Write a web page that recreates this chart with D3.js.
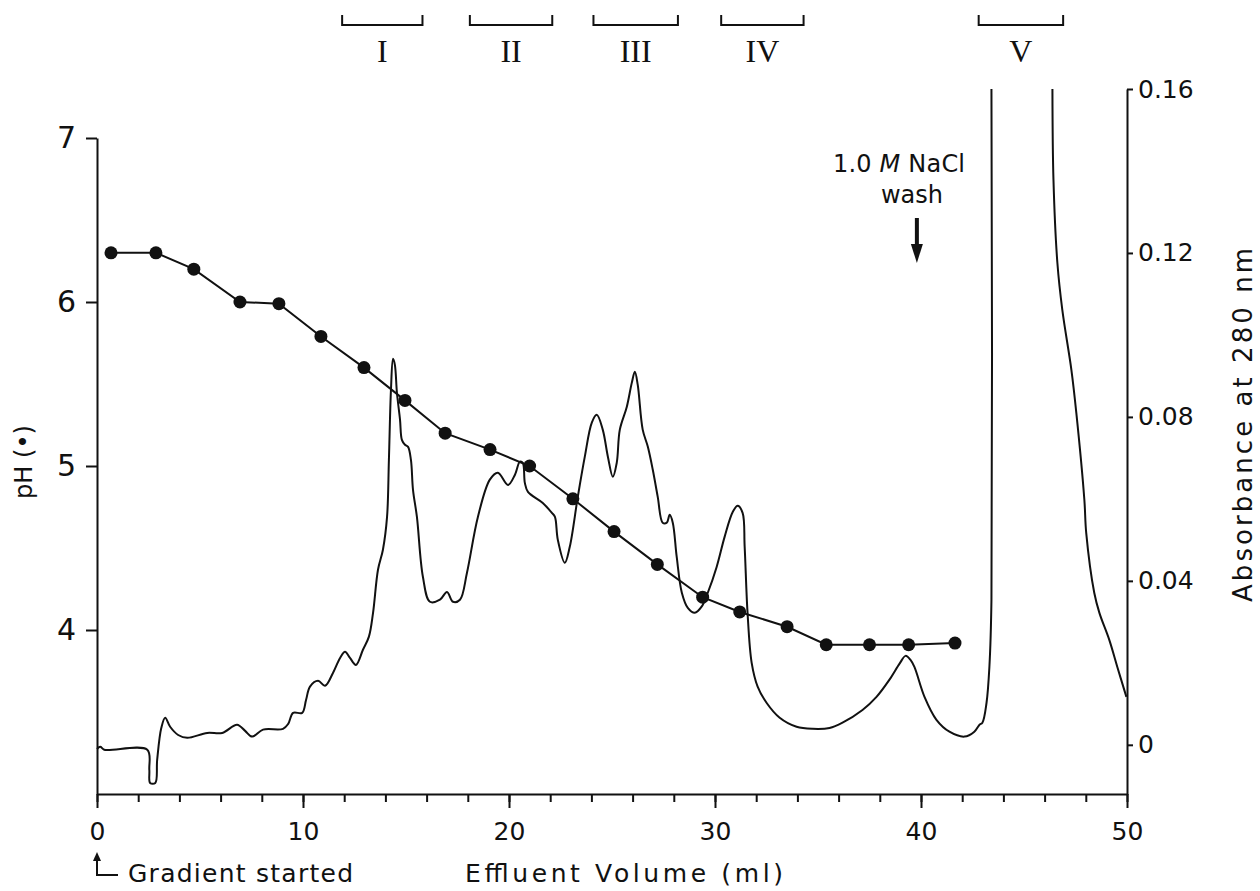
<!DOCTYPE html>
<html>
<head>
<meta charset="utf-8">
<script src="https://cdn.jsdelivr.net/npm/d3@7"></script>
<style>
  body { margin: 0; background: #fff; }
  svg text { font-family: "DejaVu Sans", sans-serif; fill: #111; }
</style>
</head>
<body>
<div id="chart"></div>
<script>
// pH of the collected fractions (ml, pH)
const phVol = [0.68, 2.86, 4.7, 6.94, 8.83, 10.87, 12.96, 14.95, 16.9, 19.08, 21.0,
  23.1, 25.1, 27.2, 29.4, 31.2, 33.5, 35.4, 37.5, 39.4, 41.65];
const phVal = [6.30, 6.30, 6.20, 6.00, 5.99, 5.79, 5.60, 5.40, 5.20, 5.10, 5.00,
  4.80, 4.60, 4.40, 4.20, 4.11, 4.02, 3.91, 3.91, 3.91, 3.92];

// Absorbance trace at 280 nm (ml, A); null = pen off scale
const absVol = [0, 0.16, 0.35, 2.44, 2.54, 2.58, 2.83, 2.92, 3.12, 3.31, 3.55, 3.94, 4.38,
  5.35, 6.08, 6.8, 7.19, 7.53, 8.06, 9.03, 9.28, 9.52, 9.96, 10.15, 10.34, 10.73, 11.07,
  11.46, 11.8, 12.04, 12.28, 12.57, 12.91, 13.2, 13.4, 13.64, 13.88, 14.08, 14.17, 14.27,
  14.37, 14.46, 14.56, 14.71, 14.8, 14.95, 15.1, 15.24, 15.34, 15.53, 15.82, 16.16, 16.65,
  16.99, 17.28, 17.62, 17.96, 18.49, 19.07, 19.46, 19.95, 20.29, 20.53, 20.67, 20.77, 20.92,
  21.64, 22.08, 22.23, 22.37, 22.71, 22.95, 23.34, 23.68, 24.02, 24.26, 24.55, 24.8, 25.04,
  25.23, 25.38, 25.72, 25.96, 26.11, 26.25, 26.49, 26.74, 26.98, 27.22, 27.46, 27.66, 27.8,
  27.95, 28.14, 28.39, 28.68, 29.02, 29.35, 29.65, 30.08, 30.47, 30.86, 31.1, 31.34, 31.44,
  31.58, 31.78, 32.07, 32.51, 33.14, 33.96, 34.74, 35.56, 36.19, 37.16, 37.84, 38.47, 38.96,
  39.25, 39.49, 39.68, 40.17, 40.75, 41.38, 42.11, 42.59, 42.84, 42.98, 43.18, 43.32, 43.42,
  43.42, 44.9, 46.38, 46.43, 46.62, 46.86, 47.3, 47.54, 47.93, 48.02, 48.41, 48.66, 49.14,
  49.53, 49.97];
const absVal = [-0.001, -0.0005, -0.0012, -0.0012, -0.0061, -0.0093, -0.0093, -0.0037, 0.0041,
  0.0066, 0.0044, 0.0024, 0.0017, 0.0029, 0.0029, 0.0049, 0.0034, 0.002, 0.0037, 0.0039,
  0.0051, 0.0078, 0.0078, 0.011, 0.0142, 0.0156, 0.0144, 0.0176, 0.0212, 0.0227, 0.0212,
  0.0195, 0.0232, 0.0264, 0.0322, 0.0427, 0.0476, 0.0556, 0.0695, 0.0866, 0.0942, 0.0927,
  0.0859, 0.0793, 0.0744, 0.0732, 0.0727, 0.0695, 0.0622, 0.0556, 0.041, 0.0349, 0.0354,
  0.0373, 0.0349, 0.0354, 0.042, 0.0556, 0.0647, 0.0664, 0.0634, 0.0659, 0.0691, 0.0688,
  0.0639, 0.0617, 0.059, 0.0566, 0.0556, 0.05, 0.0444, 0.0483, 0.0605, 0.0703, 0.0786,
  0.0805, 0.0769, 0.0703, 0.0654, 0.0688, 0.0769, 0.0825, 0.0883, 0.091, 0.0878, 0.0769,
  0.0727, 0.0671, 0.0605, 0.0542, 0.0542, 0.0561, 0.0542, 0.0459, 0.0371, 0.0334, 0.0322,
  0.0337, 0.0371, 0.0434, 0.0508, 0.0568, 0.0583, 0.0566, 0.0483, 0.0322, 0.02, 0.0142,
  0.0102, 0.0066, 0.0044, 0.0039, 0.0041, 0.0054, 0.0085, 0.0117, 0.0159, 0.0198, 0.0217,
  0.0207, 0.019, 0.0117, 0.0061, 0.0032, 0.002, 0.0032, 0.0049, 0.0054, 0.0102, 0.019,
  0.0354, 0.16, null, 0.16, 0.1379, 0.1176, 0.1061, 0.0915, 0.081, 0.0598, 0.0517, 0.0371,
  0.0322, 0.0256, 0.019, 0.0117];

// Pooled fractions (ml)
const fracNames = ['I', 'II', 'III', 'IV', 'V'];
const fracStart = [11.9, 18.1, 24.1, 30.3, 42.8];
const fracEnd = [15.8, 22.1, 28.2, 34.3, 46.9];

// Tick values
const xTicks = [0, 10, 20, 30, 40, 50];
const xMinor = d3.range(0, 51, 2);
const phTicks = [4, 5, 6, 7];
const absTicks = [0, 0.04, 0.08, 0.12, 0.16];

const washAt = 39.8; // ml where the NaCl wash begins

let
w = 1260, h = 891,
ink = '#111',
x = d3.scaleLinear().domain([0, 50]).range([97, 1127]),
yPH = d3.scaleLinear().domain([3, 7]).range([794, 138]),
yAbs = d3.scaleLinear().domain([-0.012, 0.16]).range([794, 89]),

svg = d3.select('#chart').append('svg')
  .attr('width', w).attr('height', h)
  .style('display', 'block');

// style an axis group the same way for all three
const styleAxis = (g, size) => {
  g.select('.domain').attr('stroke', ink).attr('stroke-width', 2);
  g.selectAll('.tick line').attr('stroke', ink).attr('stroke-width', 2);
  g.selectAll('.tick text').attr('fill', ink).style('font-size', size + 'px');
};

// bottom axis: minor ticks every 2 ml, then labelled majors
svg.append('g')
  .attr('transform', 'translate(0,794)')
  .call(d3.axisBottom(x).tickValues(xMinor).tickFormat('').tickSize(8).tickSizeOuter(0))
  .call(g => styleAxis(g, 24));
svg.append('g')
  .attr('transform', 'translate(0,794)')
  .call(d3.axisBottom(x).tickValues(xTicks).tickSize(14).tickPadding(14).tickSizeOuter(0))
  .call(g => styleAxis(g, 25))
  .call(g => g.select('.domain').remove());

// left pH axis
svg.append('g')
  .attr('transform', 'translate(97,0)')
  .call(d3.axisLeft(yPH).tickValues(phTicks).tickSize(11).tickPadding(10).tickSizeOuter(0)
    .tickFormat(d3.format('d')))
  .call(g => styleAxis(g, 30));

// right absorbance axis
svg.append('g')
  .attr('transform', 'translate(1127,0)')
  .call(d3.axisRight(yAbs).tickValues(absTicks).tickSize(6).tickPadding(5).tickSizeOuter(0)
    .tickFormat(d => d === 0 ? '0' : d.toFixed(2)))
  .call(g => styleAxis(g, 25));

// absorbance trace
const absData = absVol.map((v, i) => ({v: v, a: absVal[i]}));
svg.append('path')
  .datum(absData)
  .attr('fill', 'none')
  .attr('stroke', ink)
  .attr('stroke-width', 2)
  .attr('stroke-linejoin', 'round')
  .attr('d', d3.line()
    .defined(d => d.a !== null)
    .x(d => x(d.v)).y(d => yAbs(d.a))
    .curve(d3.curveCatmullRom.alpha(0.5)));

// pH line and dots
const phData = phVol.map((v, i) => ({v: v, p: phVal[i]}));
svg.append('path')
  .datum(phData)
  .attr('fill', 'none')
  .attr('stroke', ink)
  .attr('stroke-width', 2)
  .attr('d', d3.line().x(d => x(d.v)).y(d => yPH(d.p)));
svg.selectAll('circle.ph')
  .data(phData).enter()
  .append('circle')
  .attr('class', 'ph')
  .attr('cx', d => x(d.v)).attr('cy', d => yPH(d.p))
  .attr('r', 6.5).attr('fill', ink);

// fraction brackets and roman numerals
const frac = fracNames.map((n, i) => ({n: n, s: fracStart[i], e: fracEnd[i]}));
const fg = svg.selectAll('g.frac').data(frac).enter().append('g').attr('class', 'frac');
fg.append('path')
  .attr('fill', 'none').attr('stroke', ink).attr('stroke-width', 2)
  .attr('d', d => 'M' + x(d.s) + ',15V25H' + x(d.e) + 'V15');
fg.append('text')
  .attr('x', d => (x(d.s) + x(d.e)) / 2).attr('y', 62)
  .attr('text-anchor', 'middle')
  .style('font-family', '"Liberation Serif", serif')
  .style('font-size', '32px')
  .text(d => d.n);

// axis titles
svg.append('text')
  .attr('transform', 'translate(32,462) rotate(-90)')
  .attr('text-anchor', 'middle')
  .style('font-size', '24px')
  .text('pH (•)');
svg.append('text')
  .attr('transform', 'translate(1252,425) rotate(-90)')
  .attr('text-anchor', 'middle')
  .attr('textLength', 354).attr('lengthAdjust', 'spacing')
  .style('font-size', '26px')
  .text('Absorbance at 280 nm');
svg.append('text')
  .attr('x', 465).attr('y', 882)
  .attr('textLength', 318).attr('lengthAdjust', 'spacing')
  .style('font-size', '25px')
  .text('Effluent Volume (ml)');

// gradient start marker
svg.append('text')
  .attr('x', 128).attr('y', 882)
  .attr('textLength', 225).attr('lengthAdjust', 'spacing')
  .style('font-size', '25px')
  .text('Gradient started');
svg.append('path')
  .attr('fill', 'none').attr('stroke', ink).attr('stroke-width', 2)
  .attr('d', 'M' + x(0) + ',858V875H118');
svg.append('path')
  .attr('fill', ink)
  .attr('d', 'M' + x(0) + ',852l-4,9h8z');

// NaCl wash annotation
const wash = svg.append('text')
  .attr('x', 833).attr('y', 172)
  .attr('textLength', 132).attr('lengthAdjust', 'spacing')
  .style('font-size', '24px');
wash.append('tspan').text('1.0 ');
wash.append('tspan').style('font-style', 'italic').text('M');
wash.append('tspan').text(' NaCl');
svg.append('text')
  .attr('x', 912).attr('y', 203)
  .attr('text-anchor', 'middle')
  .style('font-size', '24px')
  .text('wash');
svg.append('path')
  .attr('fill', 'none').attr('stroke', ink).attr('stroke-width', 4)
  .attr('d', 'M' + x(washAt) + ',218V248');
svg.append('path')
  .attr('fill', ink)
  .attr('d', 'M' + (x(washAt) - 6) + ',244h12l-6,19z');
</script>
</body>
</html>
